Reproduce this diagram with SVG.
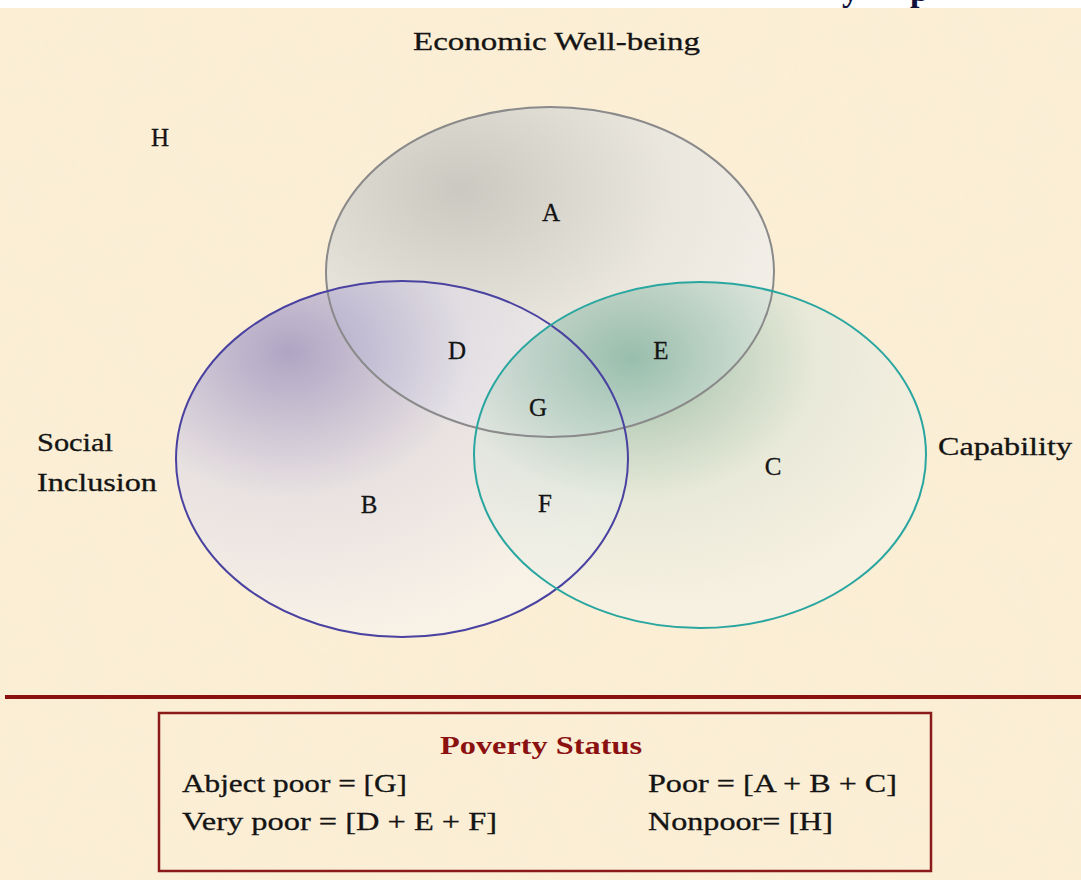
<svg xmlns="http://www.w3.org/2000/svg" width="1081" height="880" viewBox="0 0 1081 880">
<defs>
<style>
.lbl{font-family:"Liberation Serif","DejaVu Serif",serif;font-size:25px;fill:#141414;stroke:#141414;stroke-width:0.3}
.box{font-family:"Liberation Serif","DejaVu Serif",serif;font-size:25px;fill:#141414;stroke:#141414;stroke-width:0.3}
.cut{font-family:"Liberation Serif",serif;font-weight:bold;font-size:34px;fill:#10103a}
</style>
<radialGradient id="gA" cx="0.3" cy="0.25" r="0.85">
<stop offset="0" stop-color="#c4c3bd"/>
<stop offset="0.55" stop-color="#e7e5df"/>
<stop offset="1" stop-color="#f5f3ee"/>
</radialGradient>
<radialGradient id="gB" cx="0.25" cy="0.2" r="0.8">
<stop offset="0" stop-color="#8f86bd"/>
<stop offset="0.5" stop-color="#e0dce6"/>
<stop offset="1" stop-color="#f6f3ee"/>
</radialGradient>
<radialGradient id="gC" cx="0.35" cy="0.22" r="0.75">
<stop offset="0" stop-color="#5f9f88"/>
<stop offset="0.55" stop-color="#dde6dc"/>
<stop offset="1" stop-color="#f5f3ea"/>
</radialGradient>
<filter id="tex" x="0" y="0" width="100%" height="100%">
<feTurbulence type="fractalNoise" baseFrequency="0.02" numOctaves="3" seed="4"/>
<feColorMatrix type="matrix" values="0 0 0 0 0.93  0 0 0 0 0.86  0 0 0 0 0.70  0 0 0 0.35 0"/>
</filter>
</defs>
<rect x="0" y="0" width="1081" height="880" fill="#fbeed5"/>
<rect x="0" y="0" width="1081" height="880" filter="url(#tex)" opacity="0.5"/>
<rect x="0" y="0" width="1081" height="8" fill="#ffffff"/>
<text x="842" y="1" class="cut">y</text>
<text x="910" y="1" class="cut">p</text>

<g id="node-A">
<ellipse cx="550" cy="272" rx="224" ry="165" fill="url(#gA)" fill-opacity="0.88"/>
</g>
<g id="node-B">
<ellipse cx="402" cy="459" rx="226" ry="178" fill="url(#gB)" fill-opacity="0.7"/>
</g>
<g id="node-C">
<ellipse cx="700" cy="455" rx="226" ry="173" fill="url(#gC)" fill-opacity="0.6"/>
</g>
<g id="outlines" fill="none" stroke-width="2">
<ellipse cx="550" cy="272" rx="224" ry="165" stroke="#8a8a8a"/>
<ellipse cx="402" cy="459" rx="226" ry="178" stroke="#4a42a0"/>
<ellipse cx="700" cy="455" rx="226" ry="173" stroke="#2aa6a0"/>
</g>

<g id="labels">
<text x="413" y="50" textLength="287" lengthAdjust="spacingAndGlyphs" class="lbl">Economic Well-being</text>
<text x="160" y="146" text-anchor="middle" class="lbl">H</text>
<text x="551" y="221" text-anchor="middle" class="lbl">A</text>
<text x="457" y="359" text-anchor="middle" class="lbl">D</text>
<text x="661" y="359" text-anchor="middle" class="lbl">E</text>
<text x="538" y="416" text-anchor="middle" class="lbl">G</text>
<text x="773" y="475" text-anchor="middle" class="lbl">C</text>
<text x="369" y="513" text-anchor="middle" class="lbl">B</text>
<text x="545" y="512" text-anchor="middle" class="lbl">F</text>
<text x="37" y="451" textLength="76" lengthAdjust="spacingAndGlyphs" class="lbl">Social</text>
<text x="37" y="491" textLength="120" lengthAdjust="spacingAndGlyphs" class="lbl">Inclusion</text>
<text x="938" y="455" textLength="134" lengthAdjust="spacingAndGlyphs" class="lbl">Capability</text>
</g>

<line x1="5" y1="697" x2="1081" y2="697" stroke="#8b1010" stroke-width="4"/>

<g id="legend">
<rect x="159" y="713" width="772" height="158" fill="none" stroke="#8b1a1a" stroke-width="2.5"/>
<text x="440" y="754" textLength="202" lengthAdjust="spacingAndGlyphs" font-family="Liberation Serif, serif" font-weight="bold" font-size="25" fill="#8b1010">Poverty Status</text>
<text x="182" y="792" textLength="225" lengthAdjust="spacingAndGlyphs" class="box">Abject poor = [G]</text>
<text x="182" y="830" textLength="315" lengthAdjust="spacingAndGlyphs" class="box">Very poor = [D + E + F]</text>
<text x="648" y="792" textLength="249" lengthAdjust="spacingAndGlyphs" class="box">Poor = [A + B + C]</text>
<text x="648" y="830" textLength="185" lengthAdjust="spacingAndGlyphs" class="box">Nonpoor= [H]</text>
</g>
</svg>
